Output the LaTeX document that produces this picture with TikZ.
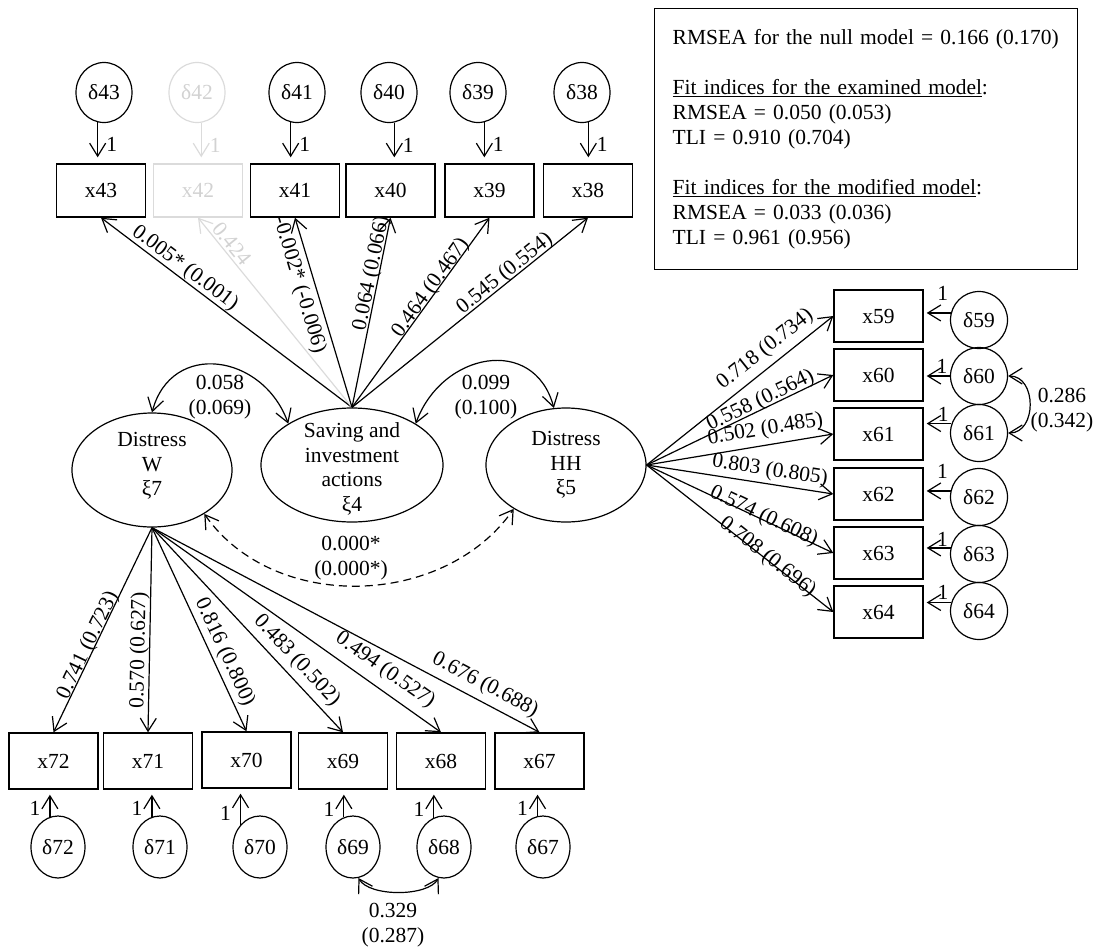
\documentclass[tikz,border=0pt]{standalone}
\usepackage{fontspec}
\setmainfont{Liberation Serif}
\usetikzlibrary{arrows.meta,shapes.geometric}
\begin{document}
\begin{tikzpicture}[x=1pt,y=1pt,
  every node/.style={font=\fontsize{21.5}{25}\selectfont},
  obs/.style={draw, line width=1.4pt, minimum width=89pt, minimum height=53pt, inner sep=0pt},
  err/.style={draw, ellipse, line width=1.2pt, minimum width=56pt, minimum height=60pt, inner sep=0pt},
  errr/.style={draw, ellipse, line width=1.2pt, minimum width=57pt, minimum height=57pt, inner sep=0pt},
  errb/.style={draw, ellipse, line width=1.2pt, minimum width=54pt, minimum height=62pt, inner sep=0pt},
  lat/.style={draw, ellipse, line width=1.2pt, inner sep=0pt, minimum height=114pt},
  txt/.style={align=center, inner sep=0pt, font=\fontsize{21.5}{24.5}\selectfont},
  load/.style={-{Straight Barb[length=13pt,width=16pt]}, line width=1.2pt},
  cov/.style={{Straight Barb[length=13pt,width=16pt]}-{Straight Barb[length=13pt,width=16pt]}, line width=1.2pt},
  lab/.style={sloped, inner sep=0pt},
  one/.style={inner sep=0pt},
  faint/.style={draw=gray!28, text=gray!35},
]
\useasboundingbox (0,0) rectangle (1097,-951);

% ---------- fit indices ----------
\node[draw, line width=1.4pt, anchor=north west, minimum width=423pt, minimum height=261pt,
      inner xsep=18pt, inner ysep=0pt, text width=387pt, align=left] (fit) at (654,-8)
 {RMSEA for the null model = 0.166 (0.170)\\[25pt]
  \underline{Fit indices for the examined model}:\\
  RMSEA = 0.050 (0.053)\\
  TLI = 0.910 (0.704)\\[25pt]
  \underline{Fit indices for the modified model}:\\
  RMSEA = 0.033 (0.036)\\
  TLI = 0.961 (0.956)};

% ---------- latent variables ----------
\node[lat, minimum width=160pt] (W) at (152,-470) {};
\node[txt] (Wt) at (152,-466) {Distress\\W\\ξ7};
\node[lat, minimum width=182pt] (sav) at (352,-465) {};
\node[txt] (savt) at (352,-469) {Saving and\\investment\\actions\\ξ4};
\node[lat, minimum width=160pt] (HH) at (566,-465) {};
\node[txt] (HHt) at (566,-465) {Distress\\HH\\ξ5};

% ---------- top indicators ----------
\node[obs] (x43) at (101,-190.5) {x43};
\node[obs, faint] (x42) at (198,-190.5) {x42};
\node[obs] (x41) at (295,-190.5) {x41};
\node[obs] (x40) at (390.5,-190.5) {x40};
\node[obs] (x39) at (489.5,-190.5) {x39};
\node[obs] (x38) at (588,-190.5) {x38};

\node[err] (d43) at (104,-92.5) {δ43};
\node[err, faint] (d42) at (197,-92.5) {δ42};
\node[err] (d41) at (297,-92.5) {δ41};
\node[err] (d40) at (389,-92.5) {δ40};
\node[err] (d39) at (478,-92.5) {δ39};
\node[err] (d38) at (582,-92.5) {δ38};

\foreach \d/\x/\a in {d43/x43/-102, d41/x41/-102, d40/x40/-80, d39/x39/-78, d38/x38/-78}
  \draw[load, shorten >=6pt] (\d.\a) -- (\d.\a |- \x.north) node[pos=0.55, right=8pt, one] {1};
\draw[load, faint, shorten >=6pt] (d42.-82) -- (d42.-82 |- x42.north) node[pos=0.55, right=8pt, one] {1};

\draw[load] (sav.north) -- (x43.south) node[lab, pos=0.69, above=0pt] {0.005* (0.001)};
\draw[load, faint] (sav.north) -- (x42.south) node[lab, pos=0.83, above=2pt] {0.424};
\draw[load] (sav.north) -- (x41.south) node[lab, pos=0.67, below=5pt] {-0.002* (-0.006)};
\draw[load] (sav.north) -- (x40.south) node[lab, pos=0.70, above=-3pt] {0.064 (0.066)};
\draw[load] (sav.north) -- (x39.south) node[lab, pos=0.61, above=-4pt] {0.464 (0.467)};
\draw[load] (sav.north) -- (x38.south) node[lab, pos=0.67, above=-2pt] {0.545 (0.554)};

% ---------- right indicators ----------
\node[obs, minimum height=52pt] (x59) at (878.5,-316) {x59};
\node[obs, minimum height=52pt] (x60) at (878.5,-375) {x60};
\node[obs, minimum height=52pt] (x61) at (878.5,-434) {x61};
\node[obs, minimum height=52pt] (x62) at (878.5,-494) {x62};
\node[obs, minimum height=52pt] (x63) at (878.5,-553) {x63};
\node[obs, minimum height=52pt] (x64) at (878.5,-612) {x64};

\node[errr] (d59) at (979,-320) {δ59};
\node[errr] (d60) at (979,-376) {δ60};
\node[errr] (d61) at (979,-433) {δ61};
\node[errr] (d62) at (979,-497) {δ62};
\node[errr] (d63) at (979,-554) {δ63};
\node[errr] (d64) at (979,-611) {δ64};

\foreach \d/\x/\a/\h in {d59/x59/166/12, d60/x60/180/2, d61/x61/161/1, d62/x62/168/12, d63/x63/168/1, d64/x64/163/2}
  \draw[load, shorten >=3pt] (\d.\a) -- (\d.\a -| \x.east) node[pos=0.3, above=\h pt, one] {1};

\draw[load] (HH.east) -- (x59.west) node[lab, pos=0.69, above=6pt] {0.718 (0.734)};
\draw[load] (HH.east) -- (x60.west) node[lab, pos=0.63, above=-2pt] {0.558 (0.564)};
\draw[load] (HH.east) -- (x61.west) node[lab, pos=0.65, above=5pt] {0.502 (0.485)};
\draw[load] (HH.east) -- (x62.west) node[lab, pos=0.65, above=3pt] {0.803 (0.805)};
\draw[load] (HH.east) -- (x63.west) node[lab, pos=0.62, above=-7pt] {0.574 (0.608)};
\draw[load] (HH.east) -- (x64.west) node[lab, pos=0.64, above=-8pt] {0.708 (0.696)};

\draw[cov] (d60.east) to[out=0, in=0, looseness=1.3] (d61.east);
\node[txt] (c4) at (1062,-410) {0.286\\(0.342)};

% ---------- bottom indicators ----------
\node[obs, minimum height=56pt] (x72) at (53.5,-761) {x72};
\node[obs, minimum height=56pt] (x71) at (148,-761) {x71};
\node[obs, minimum height=56pt] (x70) at (246.5,-760) {x70};
\node[obs, minimum height=56pt] (x69) at (343,-761) {x69};
\node[obs, minimum height=56pt] (x68) at (441,-761) {x68};
\node[obs, minimum height=56pt] (x67) at (539.5,-761) {x67};

\node[errb] (d72) at (58,-847) {δ72};
\node[errb] (d71) at (160,-847) {δ71};
\node[errb] (d70) at (260,-847) {δ70};
\node[errb] (d69) at (353,-847) {δ69};
\node[errb] (d68) at (444,-847) {δ68};
\node[errb] (d67) at (543,-847) {δ67};

\foreach \d/\x/\a in {d72/x72/105, d71/x71/105, d70/x70/131, d69/x69/107, d68/x68/109, d67/x67/100}
  \draw[load, shorten >=5pt] (\d.\a) -- (\d.\a |- \x.south) node[pos=0.3, left=9pt, one] {1};

\draw[load] (W.south) -- (x72.north) node[lab, pos=0.59, above=-4pt] {0.741 (0.723)};
\draw[load] (W.south) -- (x71.north) node[lab, pos=0.60, above=0pt] {0.570 (0.627)};
\draw[load] (W.south) -- (x70.north) node[lab, pos=0.64, above=3pt] {0.816 (0.800)};
\draw[load] (W.south) -- (x69.north) node[lab, pos=0.70, above=5pt] {0.483 (0.502)};
\draw[load] (W.south) -- (x68.north) node[lab, pos=0.77, above=8pt] {0.494 (0.527)};
\draw[load] (W.south) -- (x67.north) node[lab, pos=0.84, above=6pt] {0.676 (0.688)};

\draw[cov] (d69.-80) to[out=-60, in=-120, looseness=0.7] (d68.-100);
\node[txt] (c5) at (393,-925) {0.329\\(0.287)};

% ---------- covariances between latent variables ----------
\draw[cov] (W.north) to[out=75, in=110, looseness=1.4] (sav.147);
\node[txt] (c1) at (220,-397) {0.058\\(0.069)};
\draw[cov] (sav.33) to[out=70, in=105, looseness=1.4] (HH.102);
\node[txt] (c2) at (486,-397) {0.099\\(0.100)};
\draw[cov, dash pattern=on 8pt off 5pt] (W.-40) to[out=-55, in=-125] (HH.-140);
\node[txt] (c3) at (351,-558) {0.000*\\(0.000*)};
\end{tikzpicture}
\end{document}
